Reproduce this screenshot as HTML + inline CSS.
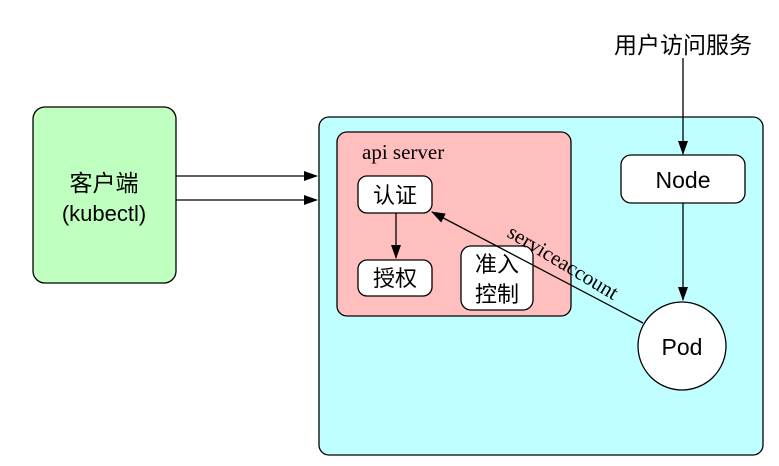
<!DOCTYPE html>
<html><head><meta charset="utf-8"><style>
html,body{margin:0;padding:0;background:#fff;width:779px;height:466px;overflow:hidden}
svg{display:block}
.s{font-family:"Liberation Sans","Noto Sans CJK SC",sans-serif;fill:#000}
.r{font-family:"Liberation Serif","Noto Serif CJK SC",serif;fill:#000}
</style></head><body>
<svg width="779" height="466" viewBox="0 0 779 466" xmlns="http://www.w3.org/2000/svg">
<defs><marker id="a" markerWidth="14" markerHeight="10" refX="13" refY="5" orient="auto" markerUnits="userSpaceOnUse"><path d="M0,0 L14,5 L0,10 Z" fill="#000"/></marker></defs>
<rect x="33" y="107" width="143" height="176" rx="12" fill="#bfffbf" stroke="#000" stroke-width="1.3"/>
<text class="s" x="104" y="191" font-size="23" text-anchor="middle">客户端</text>
<text class="s" x="104" y="221" font-size="22" text-anchor="middle">(kubectl)</text>
<line x1="176" y1="176" x2="317" y2="176" stroke="#000" stroke-width="1.3" marker-end="url(#a)"/>
<line x1="176" y1="200" x2="317" y2="200" stroke="#000" stroke-width="1.3" marker-end="url(#a)"/>
<rect x="319" y="117" width="444" height="338" rx="10" fill="#bfffff" stroke="#000" stroke-width="1.3"/>
<rect x="337" y="132" width="234" height="184" rx="10" fill="#ffbfbf" stroke="#000" stroke-width="1.3"/>
<text class="r" x="362" y="159" font-size="21">api server</text>
<rect x="358" y="176" width="74" height="37" rx="9" fill="#fff" stroke="#000" stroke-width="1.3"/>
<text class="s" x="395" y="203" font-size="22" text-anchor="middle">认证</text>
<line x1="396" y1="213" x2="396" y2="258" stroke="#000" stroke-width="1.3" marker-end="url(#a)"/>
<rect x="358" y="260" width="74" height="36" rx="9" fill="#fff" stroke="#000" stroke-width="1.3"/>
<text class="s" x="395" y="286" font-size="22" text-anchor="middle">授权</text>
<rect x="461" y="246" width="72" height="64" rx="10" fill="#fff" stroke="#000" stroke-width="1.3"/>
<text class="s" x="497" y="272" font-size="22" text-anchor="middle">准入</text>
<text class="s" x="497" y="302" font-size="22" text-anchor="middle">控制</text>
<text class="s" x="683" y="53" font-size="23" text-anchor="middle">用户访问服务</text>
<line x1="683" y1="58" x2="683" y2="154" stroke="#000" stroke-width="1.3" marker-end="url(#a)"/>
<rect x="621" y="155" width="124" height="48" rx="10" fill="#fff" stroke="#000" stroke-width="1.3"/>
<text class="s" x="683" y="188" font-size="23" text-anchor="middle">Node</text>
<line x1="683" y1="203" x2="683" y2="300" stroke="#000" stroke-width="1.3" marker-end="url(#a)"/>
<circle cx="682" cy="346" r="44" fill="#fff" stroke="#000" stroke-width="1.3"/>
<text class="s" x="682" y="355" font-size="23" text-anchor="middle">Pod</text>
<line x1="643" y1="323" x2="432" y2="212" stroke="#000" stroke-width="1.3" marker-end="url(#a)"/>
<text class="r" x="506" y="236" font-size="21" transform="rotate(31 506 236)">serviceaccount</text>
</svg>
</body></html>
